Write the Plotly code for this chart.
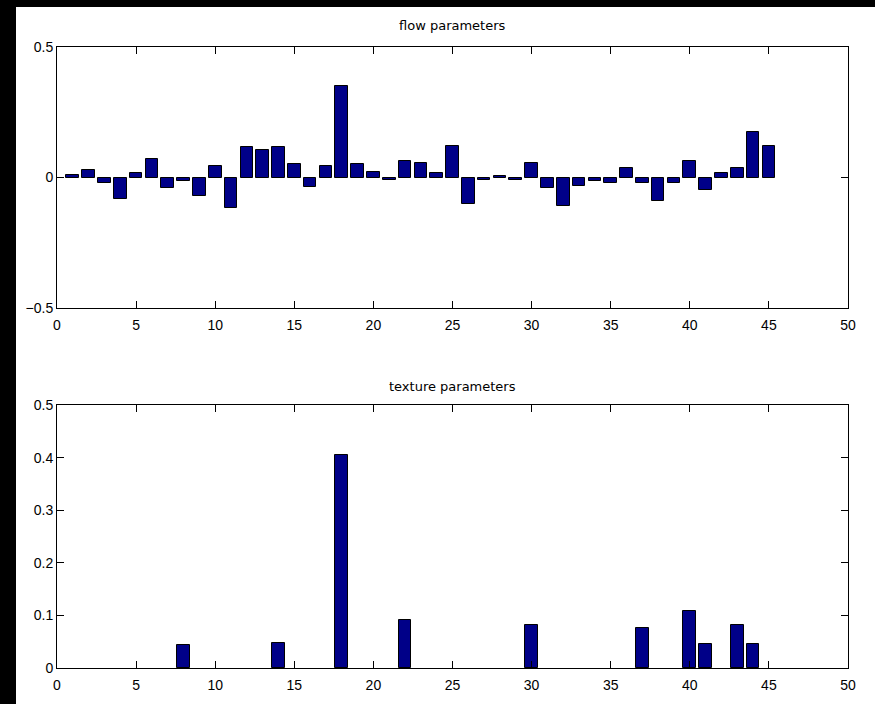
import plotly.graph_objects as go
from plotly.subplots import make_subplots

idx = list(range(1, 46))
flow = [0.010, 0.030, -0.022, -0.083, 0.018, 0.070, -0.042, -0.014, -0.070, 0.045,
        -0.117, 0.118, 0.104, 0.118, 0.051, -0.036, 0.045, 0.350, 0.051, 0.023,
        -0.008, 0.064, 0.057, 0.017, 0.120, -0.102, -0.008, 0.005, -0.008, 0.057,
        -0.041, -0.109, -0.034, -0.013, -0.020, 0.036, -0.020, -0.089, -0.020, 0.064,
        -0.048, 0.018, 0.036, 0.173, 0.120]
tex_idx = [8, 14, 18, 22, 30, 37, 40, 41, 43, 44]
texture = [0.043, 0.047, 0.405, 0.092, 0.082, 0.0755, 0.109, 0.046, 0.082, 0.046]

xticks = list(range(0, 51, 5))
flow_yticks = [-0.5, 0, 0.5]
flow_ytext = ["−0.5", "0", "0.5"]
tex_yticks = [0, 0.1, 0.2, 0.3, 0.4, 0.5]
tex_ytext = ["0", "0.1", "0.2", "0.3", "0.4", "0.5"]

W, H = 875, 704
L, R, T, B = 57, 27, 47, 36
pw = W - L - R
ph = H - T - B

fig = make_subplots(rows=2, cols=1)
bar_color = "#000088"
fig.add_trace(go.Bar(x=idx, y=flow, width=0.8, marker=dict(color=bar_color, line=dict(color="black", width=1))), row=1, col=1)
fig.add_trace(go.Bar(x=tex_idx, y=texture, width=0.8, marker=dict(color=bar_color, line=dict(color="black", width=1))), row=2, col=1)

top_dom = [(H - B - 308) / ph, 1.0]
bot_dom = [0.0, (H - B - 405) / ph]

tick_font = dict(family="Liberation Sans, Arial", size=14, color="black")
axis_common = dict(showgrid=False, zeroline=False, showline=True, linecolor="black", linewidth=1,
                   mirror="ticks", ticks="inside", ticklen=7, tickcolor="black", tickfont=tick_font)

fig.update_layout(
    width=W, height=H, showlegend=False,
    paper_bgcolor="black", plot_bgcolor="white",
    margin=dict(l=L, r=R, t=T, b=B),
    bargap=0,
    xaxis=dict(range=[0, 50], tickvals=xticks, domain=[0, 1], anchor="y", ticklabelstandoff=4, **axis_common),
    yaxis=dict(range=[-0.5, 0.5], tickvals=flow_yticks, ticktext=flow_ytext, domain=top_dom, anchor="x", **axis_common),
    xaxis2=dict(range=[0, 50], tickvals=xticks, domain=[0, 1], anchor="y2", ticklabelstandoff=4, **axis_common),
    yaxis2=dict(range=[0, 0.5], tickvals=tex_yticks, ticktext=tex_ytext, domain=bot_dom, anchor="x2", **axis_common),
)

title_font = dict(family="DejaVu Sans", size=13, color="black")
fig.add_annotation(text="flow parameters", xref="paper", yref="paper", x=0.5, y=1.0, yshift=12,
                   xanchor="center", yanchor="bottom", showarrow=False, font=title_font)
fig.add_annotation(text="texture parameters", xref="paper", yref="paper", x=0.5, y=bot_dom[1], yshift=9,
                   xanchor="center", yanchor="bottom", showarrow=False, font=title_font)

# white figure area, leaving the black strips at the left and top edges
lx = (16 - L) / pw
ty = (H - B - 7) / ph
fig.add_shape(type="rect", xref="paper", yref="paper", x0=lx, x1=3, y0=-3, y1=ty,
              fillcolor="white", line=dict(width=0), layer="below")

fig.write_html("out.html")
